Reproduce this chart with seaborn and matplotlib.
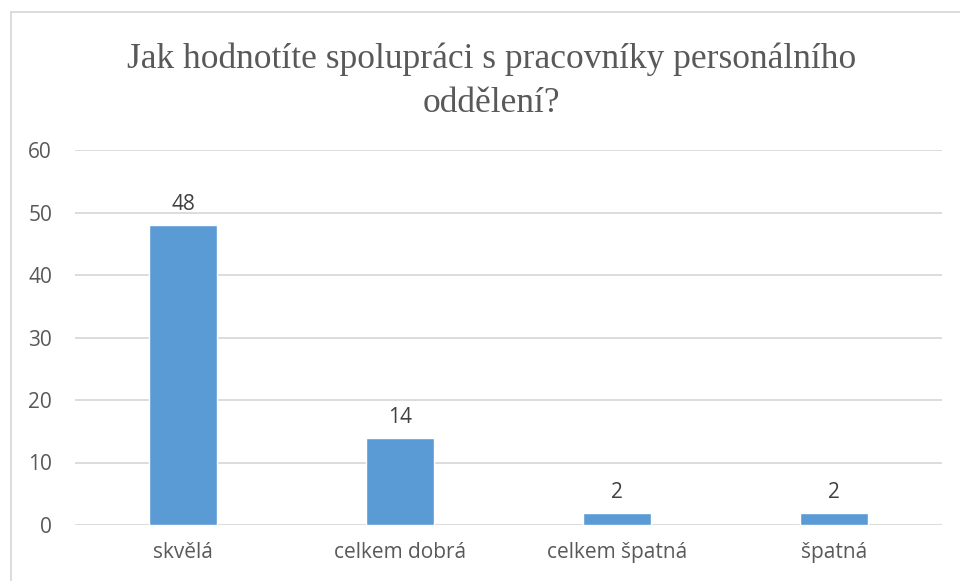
import matplotlib
matplotlib.use("Agg")
import matplotlib.pyplot as plt
import seaborn as sns
import pandas as pd
from matplotlib.lines import Line2D

# data
categories = ["skvělá", "celkem dobrá", "celkem špatná", "špatná"]
counts = [48, 14, 2, 2]
title = "Jak hodnotíte spolupráci s pracovníky personálního\noddělení?"

df = pd.DataFrame({"kategorie": categories, "pocet": counts})

sns.set_style("white")
plt.rcParams["font.family"] = ["Open Sans", "DejaVu Sans"]

fig = plt.figure(figsize=(9.6, 5.81), dpi=100)
ax = fig.add_axes([75 / 960, 1 - 525 / 581, (942 - 75) / 960, (525 - 150) / 581])

sns.barplot(data=df, x="kategorie", y="pocet", color="#5B9BD5", width=0.314,
            saturation=1, ax=ax, zorder=3)

ax.set_ylim(0, 60)
ax.set_yticks(range(0, 61, 10))
ax.yaxis.grid(True, color="#D9D9D9", linewidth=1.3, zorder=0)
ax.xaxis.grid(False)
for s in ax.spines.values():
    s.set_visible(False)
ax.tick_params(axis="both", length=0, labelsize=15, labelcolor="#595959")
ax.tick_params(axis="y", pad=16.5)
ax.tick_params(axis="x", pad=12)
ax.set_xlabel("")
ax.set_ylabel("")

for c in ax.containers:
    ax.bar_label(c, padding=7, fontsize=15, color="#404040")

fig.text(0.512, 0.860, title, ha="center", va="center", fontsize=25.5,
         family="Liberation Serif", color="#595959", linespacing=1.45)

# outer frame (left and top edges visible)
fig.add_artist(Line2D([11 / 960, 11 / 960], [0, 1 - 12 / 581], transform=fig.transFigure,
                      color="#D9D9D9", linewidth=1.3))
fig.add_artist(Line2D([11 / 960, 1], [1 - 12 / 581, 1 - 12 / 581], transform=fig.transFigure,
                      color="#D9D9D9", linewidth=1.3))

fig.savefig("out.png", dpi=100)
